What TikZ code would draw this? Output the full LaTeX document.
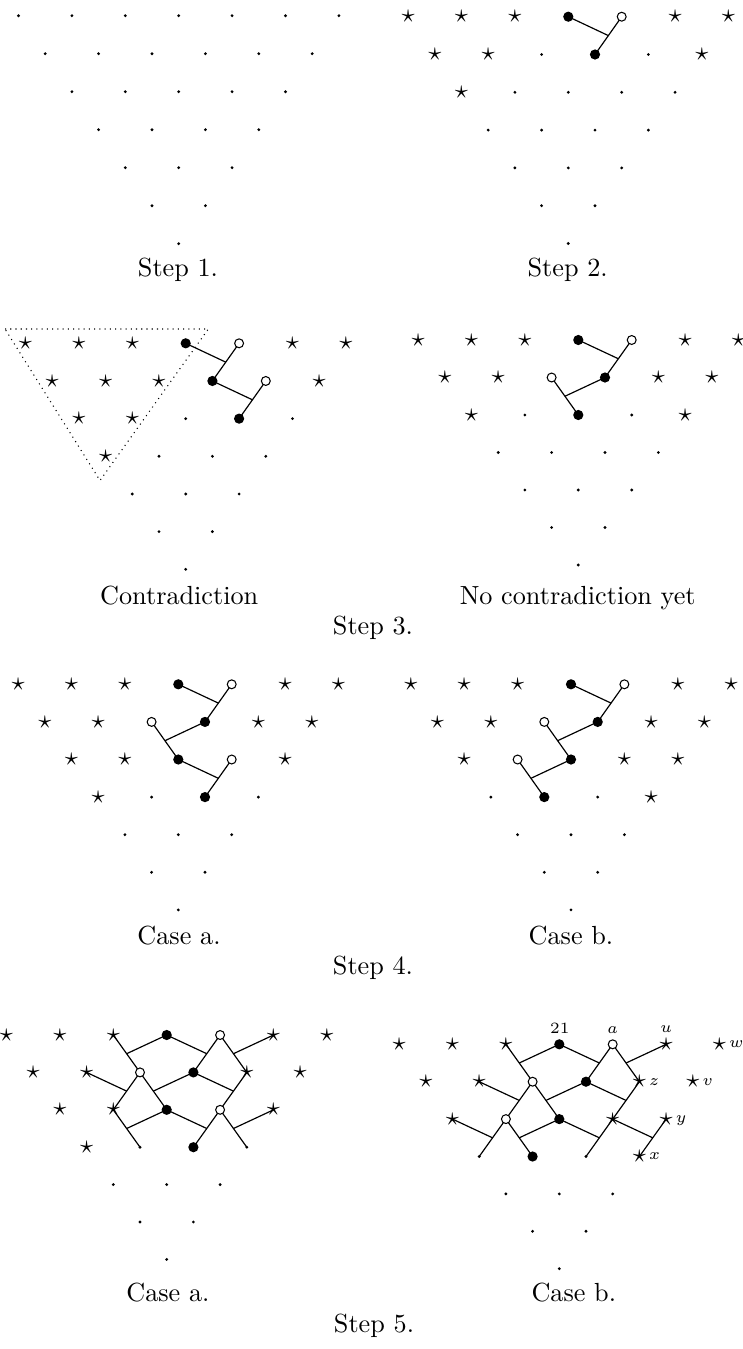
\documentclass[tikz,border=0pt]{standalone}
\usepackage{fontspec}
\usetikzlibrary{calc}
\pgfdeclarelayer{background}
\pgfsetlayers{background,main}

\tikzset{
  Dt/.style={circle, fill=black, inner sep=0pt, minimum size=1.2pt, node contents={}},
  St/.style={inner sep=0pt, node contents={$\star$}},
  Fl/.style={circle, fill=black, inner sep=0pt, minimum size=3.9pt, node contents={}},
  Op/.style={circle, draw=black, fill=white, line width=0.4pt, inner sep=0pt, minimum size=3.4pt, node contents={}},
  conn/.style={line width=0.45pt},
  caption/.style={anchor=base, inner sep=0pt},
  lbl/.style={inner sep=0pt, font=\fontsize{6}{7}\selectfont},
}

% spacing of the triangular grid
\def\hs{53.4}
\def\vs{37.6}

% one row of a grid: panel, centre x, top y, row, kinds of its points
\newcommand\gridrow[5]{%
  \foreach \kind [count=\k from 0] in {#5}{%
    \node (#1-#4-\k) at ({#2+(\k-(6-#4)/2)*\hs},{#3+#4*\vs}) [\kind];
  }%
}
% the remaining rows of a grid, all plain dots
\newcommand\dotrows[4]{%
  \foreach \r in {#4,...,6}{%
    \pgfmathtruncatemacro\n{6-\r}%
    \foreach \k in {0,...,\n}{%
      \node (#1-\r-\k) at ({#2+(\k-(6-\r)/2)*\hs},{#3+\r*\vs}) [Dt];
    }%
  }%
}
% a tee: stem #1 meets the middle of the bar #2--#3
\newcommand\tee[3]{%
  \coordinate (m-#2-#3) at ($(#2)!0.5!(#3)$);
  \begin{pgfonlayer}{background}
    \draw[conn] (#2.center) -- (#3.center);
    \draw[conn] (#1.center) -- (m-#2-#3);
  \end{pgfonlayer}
}

\begin{document}
\begin{tikzpicture}[x=0.3817pt, y=-0.3817pt]
\useasboundingbox (0,0) rectangle (743,1349);

% ---------- Step 1 ----------
\def\vs{38}
\dotrows{P1}{178.7}{15.7}{0}
\node[caption] (c1) at (178,276) {Step 1.};

% ---------- Step 2 ----------
\def\vs{37.8}
\gridrow{P2}{568.3}{16.7}{0}{St,St,St,Fl,Op,St,St}
\gridrow{P2}{568.3}{16.7}{1}{St,St,Dt,Fl,Dt,St}
\gridrow{P2}{568.3}{16.7}{2}{St,Dt,Dt,Dt,Dt}
\dotrows{P2}{568.3}{16.7}{3}
\tee{P2-0-3}{P2-0-4}{P2-1-3}
\node[caption] (c2) at (567.7,276) {Step 2.};

% ---------- Step 3, left ----------
\def\vs{37.67}
\gridrow{P3}{185.7}{343.3}{0}{St,St,St,Fl,Op,St,St}
\gridrow{P3}{185.7}{343.3}{1}{St,St,St,Fl,Op,St}
\gridrow{P3}{185.7}{343.3}{2}{St,St,Dt,Fl,Dt}
\gridrow{P3}{185.7}{343.3}{3}{St,Dt,Dt,Dt}
\dotrows{P3}{185.7}{343.3}{4}
\tee{P3-0-3}{P3-0-4}{P3-1-3}
\tee{P3-1-3}{P3-1-4}{P3-2-3}
\draw[line width=0.4pt, dash pattern=on 0.4pt off 1.6pt] (5,329) -- (208.3,329) -- (100,480.5) -- cycle;
\node[caption] (c3a) at (179.2,604) {Contradiction};

% ---------- Step 3, right ----------
\def\vs{37.5}
\gridrow{P4}{578.3}{340}{0}{St,St,St,Fl,Op,St,St}
\gridrow{P4}{578.3}{340}{1}{St,St,Op,Fl,St,St}
\gridrow{P4}{578.3}{340}{2}{St,Dt,Fl,Dt,St}
\dotrows{P4}{578.3}{340}{3}
\tee{P4-0-3}{P4-0-4}{P4-1-3}
\tee{P4-1-3}{P4-1-2}{P4-2-2}
\node[caption] (c3b) at (577.7,604) {No contradiction yet};
\node[caption] (c3) at (373,634) {Step 3.};

% ---------- Step 4, case a ----------
\def\vs{37.6}
\gridrow{P5}{178.3}{684.3}{0}{St,St,St,Fl,Op,St,St}
\gridrow{P5}{178.3}{684.3}{1}{St,St,Op,Fl,St,St}
\gridrow{P5}{178.3}{684.3}{2}{St,St,Fl,Op,St}
\gridrow{P5}{178.3}{684.3}{3}{St,Dt,Fl,Dt}
\dotrows{P5}{178.3}{684.3}{4}
\tee{P5-0-3}{P5-0-4}{P5-1-3}
\tee{P5-1-3}{P5-1-2}{P5-2-2}
\tee{P5-2-2}{P5-2-3}{P5-3-2}
\node[caption] (c4a) at (179,944) {Case a.};

% ---------- Step 4, case b ----------
\gridrow{P6}{571}{684.3}{0}{St,St,St,Fl,Op,St,St}
\gridrow{P6}{571}{684.3}{1}{St,St,Op,Fl,St,St}
\gridrow{P6}{571}{684.3}{2}{St,Op,Fl,St,St}
\gridrow{P6}{571}{684.3}{3}{Dt,Fl,Dt,St}
\dotrows{P6}{571}{684.3}{4}
\tee{P6-0-3}{P6-0-4}{P6-1-3}
\tee{P6-1-3}{P6-1-2}{P6-2-2}
\tee{P6-2-2}{P6-2-1}{P6-3-1}
\node[caption] (c4b) at (571,944) {Case b.};
\node[caption] (c4) at (373,974) {Step 4.};

% ---------- Step 5, case a ----------
\def\vs{37.4}
\gridrow{P7}{166.7}{1035}{0}{St,St,St,Fl,Op,St,St}
\gridrow{P7}{166.7}{1035}{1}{St,St,Op,Fl,St,St}
\gridrow{P7}{166.7}{1035}{2}{St,St,Fl,Op,St}
\gridrow{P7}{166.7}{1035}{3}{St,Dt,Fl,Dt}
\dotrows{P7}{166.7}{1035}{4}
\tee{P7-0-3}{P7-0-2}{P7-1-2}
\tee{P7-0-3}{P7-0-4}{P7-1-3}
\tee{P7-0-5}{P7-0-4}{P7-1-4}
\tee{P7-1-1}{P7-1-2}{P7-2-1}
\tee{P7-1-3}{P7-1-2}{P7-2-2}
\tee{P7-1-3}{P7-1-4}{P7-2-3}
\tee{P7-2-2}{P7-2-1}{P7-3-1}
\tee{P7-2-2}{P7-2-3}{P7-3-2}
\tee{P7-2-4}{P7-2-3}{P7-3-3}
\node[caption] (c5a) at (167.9,1301) {Case a.};

% ---------- Step 5, case b ----------
\gridrow{P8}{559.3}{1044.3}{0}{St,St,St,Fl,Op,St,St}
\gridrow{P8}{559.3}{1044.3}{1}{St,St,Op,Fl,St,St}
\gridrow{P8}{559.3}{1044.3}{2}{St,Op,Fl,St,St}
\gridrow{P8}{559.3}{1044.3}{3}{Dt,Fl,Dt,St}
\dotrows{P8}{559.3}{1044.3}{4}
\tee{P8-0-3}{P8-0-2}{P8-1-2}
\tee{P8-0-3}{P8-0-4}{P8-1-3}
\tee{P8-0-5}{P8-0-4}{P8-1-4}
\tee{P8-1-1}{P8-1-2}{P8-2-1}
\tee{P8-1-3}{P8-1-2}{P8-2-2}
\tee{P8-1-3}{P8-1-4}{P8-2-3}
\tee{P8-2-0}{P8-2-1}{P8-3-0}
\tee{P8-2-2}{P8-2-1}{P8-3-1}
\tee{P8-2-2}{P8-2-3}{P8-3-2}
\tee{P8-2-3}{P8-2-4}{P8-3-3}
% point labels
\node[lbl, anchor=base] (l21) at ($(P8-0-3)+(0.5,-11)$) {21};
\node[lbl, anchor=base] (la) at ($(P8-0-4)+(0,-11)$) {$a$};
\node[lbl, anchor=base] (lu) at ($(P8-0-5)+(0,-11.5)$) {$u$};
\node[lbl, anchor=base west] (lw) at ($(P8-0-6)+(9.2,3.4)$) {$w$};
\node[lbl, anchor=base west] (lz) at ($(P8-1-4)+(9.2,3.4)$) {$z$};
\node[lbl, anchor=base west] (lv) at ($(P8-1-5)+(9.2,3.4)$) {$v$};
\node[lbl, anchor=base west] (ly) at ($(P8-2-4)+(9.2,3.4)$) {$y$};
\node[lbl, anchor=base west] (lx) at ($(P8-3-3)+(9.2,3.4)$) {$x$};
\node[caption] (c5b) at (573.8,1301) {Case b.};
\node[caption] (c5) at (374,1332) {Step 5.};
\end{tikzpicture}
\end{document}
